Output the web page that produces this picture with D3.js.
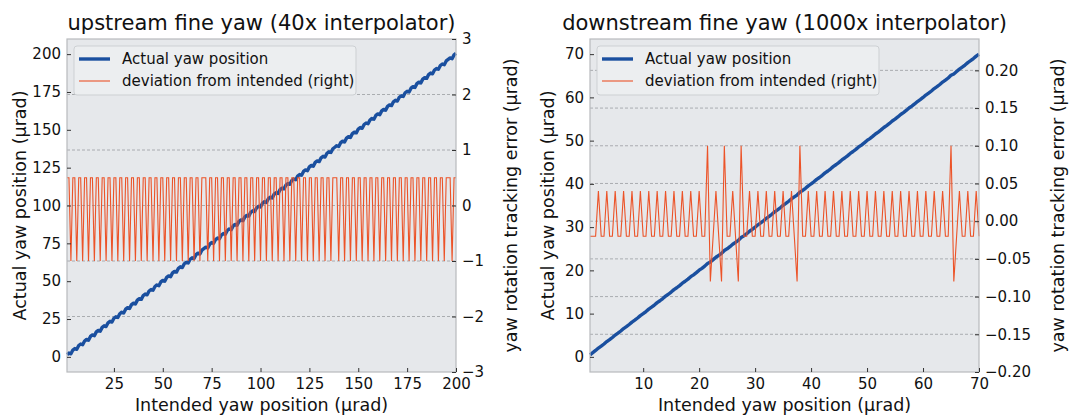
<!DOCTYPE html>
<html>
<head>
<meta charset="utf-8">
<script src="https://cdn.jsdelivr.net/npm/d3@7"></script>
<style>
  body { margin: 0; background: #fff; }
  text { font-family: "DejaVu Sans", sans-serif; fill: #111; }
</style>
</head>
<body>
<svg id="chart" width="1070" height="415"></svg>
<script>
// ---- upstream fine yaw (40x interpolator) ----
// intended positions, 1 µrad steps from 1 to 200
var upIntended = d3.range(1, 201);
// tracking error (µrad)
var upDeviation = [
  .5,.5,-1,.5,.5,-1,.5,.5,-1,.5,.5,-1,.5,.5,-1,.5,.5,-1,.5,.5,
  -1,.5,.5,-1,.5,.5,-1,.5,.5,-1,.5,.5,-1,.5,.5,-1,.5,.5,-1,.5,
  .5,-1,.5,.5,-1,.5,.5,-1,.5,.5,-1,.5,.5,-1,.5,.5,-1,.5,.5,-1,
  .5,.5,-1,.5,.5,-1,.5,.5,-1,.5,.5,.5,-1,.5,.5,-1,.5,.5,-1,.5,
  .5,-1,.5,.5,-1,.5,.5,-1,.5,.5,-1,.5,.5,-1,.5,.5,-1,.5,.5,-1,
  .5,.5,-1,.5,.5,-1,.5,.5,-1,.5,.5,-1,.5,.5,-1,.5,.5,-1,.5,.5,
  -1,.5,.5,-1,.5,.5,-1,.5,.5,-1,.5,.5,-1,.5,.5,-1,.5,.5,.5,-1,
  .5,.5,-1,.5,.5,-1,.5,.5,-1,.5,.5,-1,.5,.5,-1,.5,.5,-1,.5,.5,
  -1,.5,.5,-1,.5,.5,-1,.5,.5,-1,.5,.5,-1,.5,.5,-1,.5,.5,-1,.5,
  .5,-1,.5,.5,-1,.5,.5,-1,.5,.5,-1,.5,.5,-1,.5,.5,.5,-1,.5,.5
];
var upXTicks = [25, 50, 75, 100, 125, 150, 175, 200];
var upYTicks = [0, 25, 50, 75, 100, 125, 150, 175, 200];
var upErrTicks = [-3, -2, -1, 0, 1, 2, 3];

// ---- downstream fine yaw (1000x interpolator) ----
// intended positions, 0.5 µrad steps from 0.5 to 70
var downIntended = d3.range(0.5, 70.25, 0.5);
var downDeviation = [
  -.02,-.02,-.02,.04,-.02,-.02,.04,-.02,-.02,.04,-.02,-.02,.04,-.02,-.02,
  .04,-.02,-.02,.04,-.02,-.02,.04,-.02,-.02,.04,-.02,-.02,.04,-.02,-.02,
  .04,-.02,-.02,.04,-.02,-.02,.04,-.02,-.02,.04,-.02,-.02,.10,-.08,-.02,
  .04,-.02,-.08,.10,-.02,-.02,.04,-.02,-.08,.10,-.02,-.02,.04,-.02,-.02,
  .04,-.02,-.02,.04,-.02,-.02,.04,-.02,-.02,.04,-.02,-.02,.04,-.02,-.08,
  .10,-.02,-.02,.04,-.02,-.02,.04,-.02,-.02,.04,-.02,-.02,.04,-.02,-.02,
  .04,-.02,-.02,.04,-.02,-.02,.04,-.02,-.02,.04,-.02,-.02,.04,-.02,-.02,
  .04,-.02,-.02,.04,-.02,-.02,.04,-.02,-.02,.04,-.02,-.02,.04,-.02,-.02,
  .04,-.02,-.02,.04,-.02,-.02,.04,-.02,-.02,.10,-.08,-.02,.04,-.02,-.02,
  .04,-.02,-.02,.04,-.02
];
var downXTicks = [10, 20, 30, 40, 50, 60, 70];
var downYTicks = [0, 10, 20, 30, 40, 50, 60, 70];
var downErrTicks = [-0.2, -0.15, -0.1, -0.05, 0, 0.05, 0.1, 0.15, 0.2];

var blue = "#1a4f9f", red = "#ec5328";
var svg = d3.select("#chart");
var plotTop = 39, plotBottom = 372;

var panels = [
  { title: "upstream fine yaw (40x interpolator)", left: 67, right: 456,
    intended: upIntended, deviation: upDeviation,
    xDomain: [1, 200], yDomain: [-10, 210], errDomain: [-3, 3],
    xTicks: upXTicks, yTicks: upYTicks, errTicks: upErrTicks, errFmt: d3.format("d"),
    yLabelX: 20, errLabelX: 511 },
  { title: "downstream fine yaw (1000x interpolator)", left: 590, right: 979,
    intended: downIntended, deviation: downDeviation,
    xDomain: [0.5, 70], yDomain: [-3.5, 73.5], errDomain: [-0.2, 0.2416],
    xTicks: downXTicks, yTicks: downYTicks, errTicks: downErrTicks, errFmt: d3.format(".2f"),
    yLabelX: 548, errLabelX: 1058 }
];

panels.forEach(function(p) {
  var g = svg.append("g");
  var x = d3.scaleLinear().domain(p.xDomain).range([p.left, p.right]);
  var y = d3.scaleLinear().domain(p.yDomain).range([plotBottom, plotTop]);
  var y2 = d3.scaleLinear().domain(p.errDomain).range([plotBottom, plotTop]);

  g.append("rect")
    .attr("x", p.left).attr("y", plotTop)
    .attr("width", p.right - p.left).attr("height", plotBottom - plotTop)
    .attr("fill", "#e6e8eb");

  // dashed grid follows the right-hand axis
  g.selectAll(".grid")
    .data(p.errTicks.filter(function(t) { return y2(t) > plotTop + 1 && y2(t) < plotBottom - 1; }))
    .join("line")
    .attr("x1", p.left).attr("x2", p.right)
    .attr("y1", function(t) { return y2(t); })
    .attr("y2", function(t) { return y2(t); })
    .attr("stroke", "#9a9da1").attr("stroke-width", 0.8)
    .attr("stroke-dasharray", "3,2");

  var actual = d3.line()
    .x(function(d, i) { return x(p.intended[i]); })
    .y(function(d, i) { return y(p.intended[i] + d); });
  g.append("path").datum(p.deviation)
    .attr("d", actual)
    .attr("fill", "none").attr("stroke", blue)
    .attr("stroke-width", 3.4).attr("stroke-linejoin", "round");

  var dev = d3.line()
    .x(function(d, i) { return x(p.intended[i]); })
    .y(function(d) { return y2(d); });
  g.append("path").datum(p.deviation)
    .attr("d", dev)
    .attr("fill", "none").attr("stroke", red).attr("stroke-width", 1.1);

  g.append("rect")
    .attr("x", p.left).attr("y", plotTop)
    .attr("width", p.right - p.left).attr("height", plotBottom - plotTop)
    .attr("fill", "none").attr("stroke", "#b8babd").attr("stroke-width", 1.2);

  function style(ax) {
    ax.select(".domain").remove();
    ax.selectAll(".tick line").attr("stroke", "#333");
    ax.selectAll(".tick text").style("font-size", "15px").attr("fill", "#111");
  }
  g.append("g").attr("transform", "translate(" + p.left + ",0)")
    .call(d3.axisLeft(y).tickValues(p.yTicks).tickSize(-4).tickPadding(6))
    .call(style);
  g.append("g").attr("transform", "translate(" + p.right + ",0)")
    .call(d3.axisRight(y2).tickValues(p.errTicks).tickFormat(p.errFmt).tickSize(-4).tickPadding(6))
    .call(style);
  g.append("g").attr("transform", "translate(0," + plotBottom + ")")
    .call(d3.axisBottom(x).tickValues(p.xTicks).tickSize(-4).tickPadding(6))
    .call(style);

  var mid = (p.left + p.right) / 2;
  g.append("text").attr("x", mid).attr("y", 30)
    .attr("text-anchor", "middle").style("font-size", "21px").text(p.title);
  g.append("text").attr("x", mid).attr("y", 411)
    .attr("text-anchor", "middle").style("font-size", "17.5px")
    .text("Intended yaw position (µrad)");
  g.append("text")
    .attr("transform", "translate(" + p.yLabelX + "," + ((plotTop + plotBottom) / 2) + ") rotate(-90)")
    .attr("text-anchor", "middle").attr("dy", "0.35em").style("font-size", "17.5px")
    .text("Actual yaw position (µrad)");
  g.append("text")
    .attr("transform", "translate(" + p.errLabelX + "," + ((plotTop + plotBottom) / 2) + ") rotate(-90)")
    .attr("text-anchor", "middle").attr("dy", "0.35em").style("font-size", "17.5px")
    .text("yaw rotation tracking error (µrad)");

  // legend
  var lg = g.append("g").attr("transform", "translate(" + (p.left + 7) + "," + (plotTop + 7) + ")");
  lg.append("rect").attr("width", 282).attr("height", 49).attr("rx", 3)
    .attr("fill", "#eceef0").attr("stroke", "#cdd0d3");
  var items = [
    { label: "Actual yaw position", color: blue, w: 3.4 },
    { label: "deviation from intended (right)", color: red, w: 1.1 }
  ];
  items.forEach(function(it, i) {
    var yy = 13 + i * 22;
    lg.append("line").attr("x1", 5).attr("x2", 36).attr("y1", yy).attr("y2", yy)
      .attr("stroke", it.color).attr("stroke-width", it.w);
    lg.append("text").attr("x", 48).attr("y", yy).attr("dy", "0.35em")
      .style("font-size", "15px").text(it.label);
  });
});
</script>
</body>
</html>
